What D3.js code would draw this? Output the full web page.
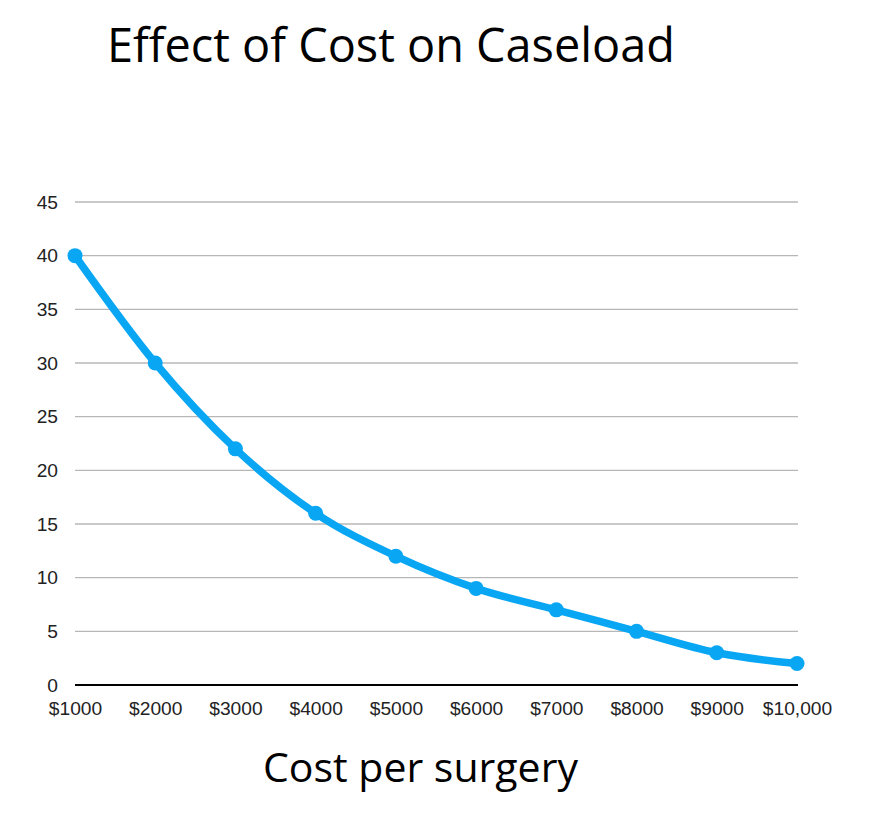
<!DOCTYPE html>
<html><head><meta charset="utf-8">
<script src="https://cdn.jsdelivr.net/npm/d3@7"></script>
<style>body{margin:0;background:#fff}svg{display:block}</style>
</head><body>
<svg id="c" width="877" height="825"></svg>
<script>
const categories = ["$1000","$2000","$3000","$4000","$5000","$6000","$7000","$8000","$9000","$10,000"];
const caseload = [40,30,22,16,12,9,7,5,3,2];
const yTicks = [0,5,10,15,20,25,30,35,40,45];
const titleText = "Effect of Cost on Caseload";
const xTitleText = "Cost per surgery";

(function(){
const svg = d3.select("#c");
const mLeft = 75, mRight = 797, mTop = 202, mBottom = 685;
const fs = 19.2;
const x = d3.scalePoint().domain(categories).range([mLeft, mRight]);
const y = d3.scaleLinear().domain([0,45]).range([mBottom, mTop]);

// gridlines
svg.append("g").selectAll("line").data(yTicks.filter(d=>d>0)).join("line")
  .attr("x1", mLeft).attr("x2", mRight+1)
  .attr("y1", d=>y(d)).attr("y2", d=>y(d))
  .attr("stroke", "#b7b7b7").attr("stroke-width", 1.3);

// y labels
const yAxis = d3.axisLeft(y).tickValues(yTicks).tickSize(0).tickPadding(17);
const gy = svg.append("g").attr("transform", `translate(${mLeft},0)`).call(yAxis);
gy.select(".domain").remove();
gy.attr("font-size", null).attr("font-family", null);
gy.selectAll("text").style("font-family","Liberation Sans, Arial").style("font-size",fs+"px").attr("fill","#222");

// zero line
svg.append("line").attr("x1", mLeft).attr("x2", mRight+1).attr("y1", y(0)).attr("y2", y(0))
  .attr("stroke", "#000").attr("stroke-width", 2);

// x labels
const xAxis = d3.axisBottom(x).tickSize(0).tickPadding(16);
const gx = svg.append("g").attr("transform", `translate(0,${mBottom})`).call(xAxis);
gx.select(".domain").remove();
gx.attr("font-size", null).attr("font-family", null);
gx.selectAll("text").style("font-family","Liberation Sans, Arial").style("font-size",fs+"px").attr("fill","#222");

// line
const color = "#09a6f3";
const line = d3.line().x((d,i)=>x(categories[i])).y(d=>y(d)).curve(d3.curveMonotoneX);
svg.append("path").datum(caseload).attr("d", line)
  .attr("fill","none").attr("stroke", color).attr("stroke-width", 7.5)
  .attr("stroke-linejoin","round").attr("stroke-linecap","round");
svg.append("g").selectAll("circle").data(caseload).join("circle")
  .attr("cx",(d,i)=>x(categories[i])).attr("cy", d=>y(d)).attr("r", 7.5).attr("fill", color);

// titles
const t = svg.append("text").attr("x",107).attr("y",62)
  .attr("font-family","Open Sans, Lato, sans-serif").attr("font-size",44).attr("fill","#000").text(titleText);
const tw = t.node().getComputedTextLength();
t.attr("font-size", 44*568/tw);

const xt = svg.append("text").attr("x",263).attr("y",782)
  .attr("font-family","Open Sans, Lato, sans-serif").attr("font-size",32).attr("fill","#000").text(xTitleText);
const xw = xt.node().getComputedTextLength();
xt.attr("font-size", 32*315/xw);
})();
</script>
</body></html>
